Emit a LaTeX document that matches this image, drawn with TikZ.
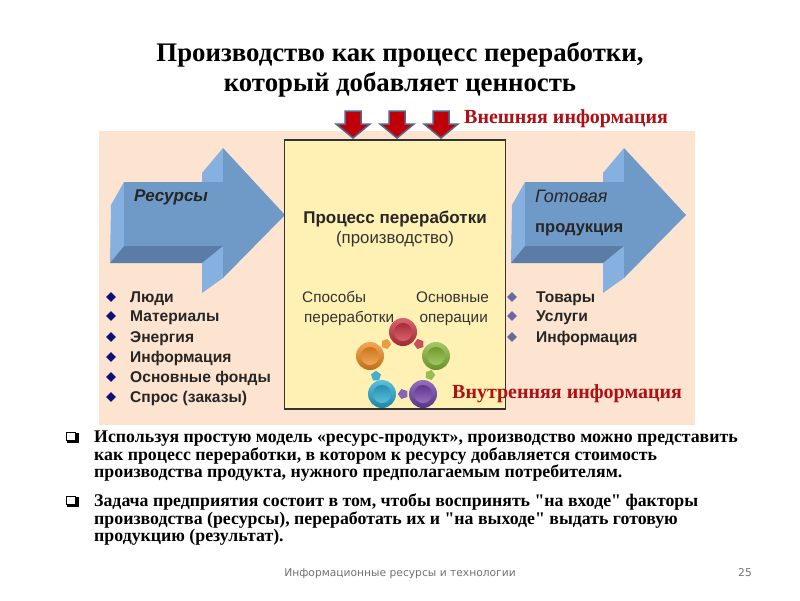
\documentclass[tikz,border=0pt]{standalone}
\usepackage{fontspec}
\setmainfont{Liberation Serif}
\setsansfont{Liberation Sans}
\newfontfamily\footfont{DejaVu Sans}
\newfontfamily\bodyfont{Liberation Serif}
\usetikzlibrary{shapes.geometric}
\definecolor{bgpeach}{HTML}{FCE4D0}
\definecolor{boxyellow}{HTML}{FFF1B4}
\definecolor{arrowfront}{HTML}{6F9AC8}
\definecolor{arrowlight}{HTML}{85B0E0}
\definecolor{arrowdark}{HTML}{5A7CA6}
\definecolor{redarrow}{HTML}{C00008}
\definecolor{redborder}{HTML}{4F6890}
\definecolor{labelred}{HTML}{B00F14}
\definecolor{listtext}{HTML}{262626}
\definecolor{diamondL}{HTML}{10107A}
\definecolor{diamondR}{HTML}{6868A0}
\definecolor{ballred}{HTML}{C8323F}
\definecolor{ballgreen}{HTML}{85B535}
\definecolor{ballpurple}{HTML}{7040A8}
\definecolor{ballblue}{HTML}{28A8D0}
\definecolor{ballorange}{HTML}{EE8A20}
\definecolor{smred}{HTML}{C8505A}
\definecolor{smgreen}{HTML}{96BE50}
\definecolor{smpurple}{HTML}{8C64B4}
\definecolor{smblue}{HTML}{46AFCD}
\definecolor{smorange}{HTML}{EB9B46}
\tikzset{
  titletext/.style={inner sep=0,anchor=base,font=\fontsize{26.8}{30}\selectfont\bfseries},
  redlabel/.style={inner sep=0,anchor=base west,text=labelred,font=\fontsize{20}{22}\selectfont\bfseries},
  bodytext/.style={inner sep=0,anchor=base west,font=\fontsize{17.8}{18}\selectfont\bodyfont\bfseries},
  listitem/.style={inner sep=0,anchor=base west,text=listtext,font=\fontsize{15.6}{17}\selectfont\sffamily\bfseries},
  boxtext/.style={inner sep=0,anchor=base,text=black!80,font=\fontsize{15.3}{17}\selectfont\sffamily},
  headtext/.style={inner sep=0,anchor=base,text=black!85,font=\fontsize{17}{19}\selectfont\sffamily\bfseries},
  subheadtext/.style={inner sep=0,anchor=base,text=black!80,font=\fontsize{16.8}{19}\selectfont\sffamily},
  arrowtext/.style={inner sep=0,anchor=base west,text=black!85,font=\fontsize{16.5}{17}\selectfont\sffamily\bfseries},
  arrowbi/.style={inner sep=0,anchor=base west,text=black!85,font=\fontsize{17}{17}\selectfont\sffamily\bfseries\itshape},
  listdiamond/.style={diamond,inner sep=0,minimum size=10pt,fill=#1},
  redarrowshape/.style={fill=redarrow,draw=redborder,line width=1.5pt,line join=miter},
  ball/.style={circle,inner sep=0,minimum size=28pt,top color=#1!75!white,bottom color=#1!80!black},
  ballcentre/.style={circle,inner sep=0,minimum size=18pt,top color=#1!85!black,bottom color=#1!75!white},
  ballarrow/.style={regular polygon,regular polygon sides=5,inner sep=0,minimum size=10.5pt,fill=#1},
  footer/.style={inner sep=0,anchor=base,text=black!55,font=\fontsize{10.7}{13}\selectfont\footfont},
}
\newcommand{\blockarrow}[1]{%
  \begin{scope}[xshift=#1pt]
    \fill[arrowlight] (111,205) -- (124,182) -- (124,246) -- (110,263) -- cycle;
    \fill[arrowlight] (202,173) -- (223,148) -- (223,182) -- (202,182) -- cycle;
    \fill[arrowlight] (202,263) -- (223,246) -- (223,278) -- (202,293) -- cycle;
    \fill[arrowdark] (124,246) -- (110,263) -- (202,263) -- (223,246) -- cycle;
    \fill[arrowfront] (124,182) -- (223,182) -- (223,148) -- (285,215) -- (223,278) -- (223,246) -- (124,246) -- cycle;
  \end{scope}}
\newcommand{\redarrowat}[1]{%
  \begin{scope}[xshift=#1pt]
    \path[redarrowshape] (-8,111) -- (8,111) -- (8,124) -- (17,124) -- (0,138) -- (-17,124) -- (-8,124) -- cycle;
  \end{scope}}
\newcommand{\checkbox}[1]{%
  \begin{scope}[yshift=-#1pt]
    \fill[black] (67,2) rectangle (78.5,12);
    \fill[white] (66,1) rectangle (75.5,9.5);
    \draw[black,line width=.8pt] (66,1) rectangle (75.5,9.5);
  \end{scope}}
\begin{document}
\begin{tikzpicture}[x=1pt,y=-1pt]
\useasboundingbox (0,0) rectangle (800,600);
\fill[white] (0,0) rectangle (800,600);
\node[titletext] (t1) at (400,61) {Производство как процесс переработки,};
\node[titletext] (t2) at (400,91) {который добавляет ценность};
\fill[bgpeach] (99,131) rectangle (695,425);
\blockarrow{0}
\blockarrow{401}
\draw[fill=boxyellow,draw=black!80,line width=1.3pt] (284.5,140) rectangle (505.5,409);
\redarrowat{353}
\redarrowat{397}
\redarrowat{441}
\node[redlabel] (ext) at (464,123) {Внешняя информация};
\node[arrowbi] (res) at (134,201) {Ресурсы};
\node[arrowbi,font=\fontsize{18}{17}\selectfont\sffamily\itshape] (ready) at (535,202) {Готовая};
\node[arrowtext] (prod) at (535,232) {продукция};
\node[headtext] (p1) at (395,223) {Процесс переработки};
\node[subheadtext] (p2) at (395,243) {(производство)};
\node[boxtext,anchor=base west] (s1) at (302,302) {Способы};
\node[boxtext,anchor=base west] (s2) at (304,322) {переработки};
\node[boxtext,anchor=base east] (o1) at (489,302) {Основные};
\node[boxtext,anchor=base east] (o2) at (488,322) {операции};
\foreach \n/\y/\t in {a/297/Люди,b/316/Материалы,c/337/Энергия,d/357/Информация,e/377/Основные фонды,f/397/Спрос (заказы)}{
  \node[listdiamond=diamondL] (d\n) at (111,\y) {};
  \node[listitem] (l\n) at (130,\y+5) {\t};
}
\foreach \n/\y/\t in {a/297/Товары,b/316/Услуги,c/337/Информация}{
  \node[listdiamond=diamondR] (r\n) at (512,\y) {};
  \node[listitem] (m\n) at (536,\y+5) {\t};
}
\node[ballarrow=smred,rotate=-54] (ar1) at (419,344) {};
\node[ballarrow=smgreen,rotate=-18] (ar2) at (430,375) {};
\node[ballarrow=smpurple,rotate=90] (ar3) at (403,394) {};
\node[ballarrow=smblue,rotate=0] (ar4) at (376,376) {};
\node[ballarrow=smorange,rotate=54] (ar5) at (386,344) {};
\foreach \n/\x/\y in {red/403/332,green/436/356,purple/423/394,blue/382/394,orange/370/356}{
  \node[ball=ball\n] (b\n) at (\x,\y) {};
  \node[ballcentre=ball\n] (c\n) at (\x,\y) {};
}
\node[redlabel] (int) at (452,398) {Внутренняя информация};
\checkbox{431}
\checkbox{495}
\foreach \n/\y/\t in {
  a/442/{Используя простую модель «ресурс-продукт», производство можно представить},
  b/460/{как процесс переработки, в котором к ресурсу добавляется стоимость},
  c/477/{производства продукта, нужного предполагаемым потребителям.},
  d/506/{Задача предприятия состоит в том, чтобы воспринять "на входе" факторы},
  e/524/{производства (ресурсы), переработать их и "на выходе" выдать готовую},
  f/541/{продукцию (результат).}}{
  \node[bodytext] (body\n) at (94,\y) {\t};
}
\node[footer] (foot) at (400,576) {Информационные ресурсы и технологии};
\node[footer] (page) at (745,576) {25};
\end{tikzpicture}
\end{document}
